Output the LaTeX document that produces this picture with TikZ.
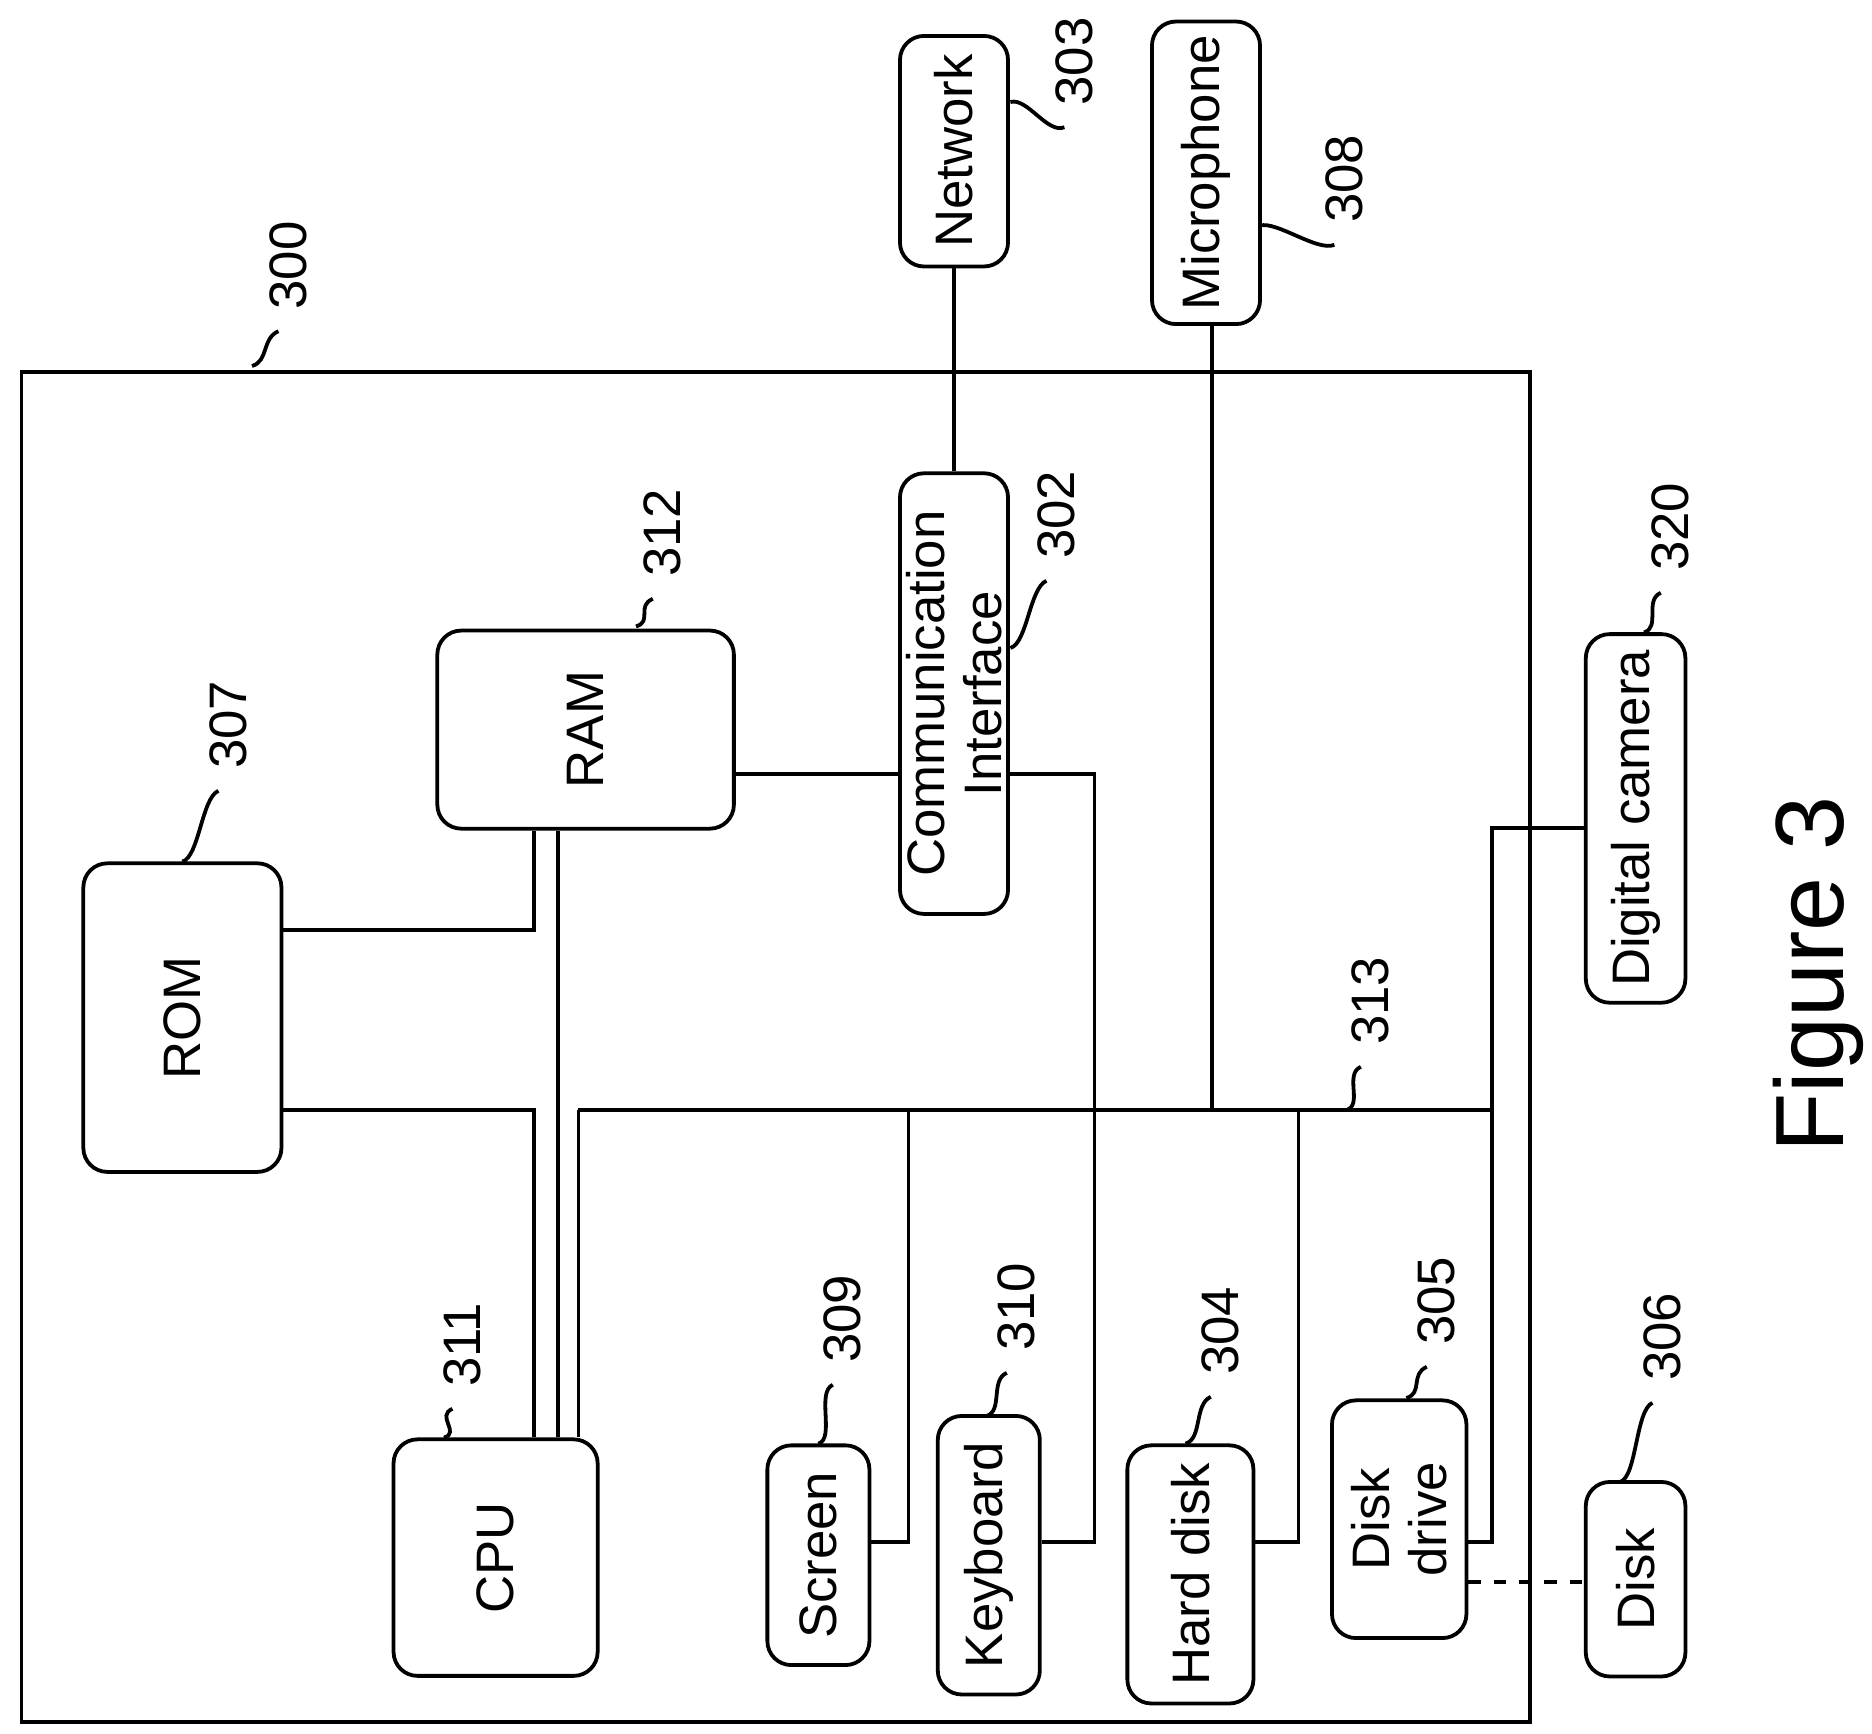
\documentclass[tikz,border=0pt]{standalone}
\usepackage{fontspec}
\setmainfont{Liberation Sans}
\usetikzlibrary{positioning, calc}
\tikzset{
    box/.style={
        draw,
        rectangle,
        rounded corners=2mm,
        rotate=90,
        align=center,
        line width=0.9pt,
        font=\fontsize{12.5}{13.5}\selectfont,
        inner sep=1pt
    },
    bus/.style={
        line width=0.9pt
    },
    refnum/.style={
        rotate=90,
        anchor=west,
        font=\fontsize{12.5}{13.5}\selectfont,
        inner sep=1pt
    }
}
% part number with its little curve
\newcommand{\partnum}[5]{%
    \draw[bus] (#2) .. controls +(14,-4) and +(-14,6) .. ($(#3,#4)+(-8,14)$);
    \node[refnum] (#1) at (#3,#4) {#5};
}

\begin{document}
\begin{tikzpicture}[x=0.01cm, y=-0.01cm]
    \useasboundingbox (0,0) rectangle (1560,1445);

    % Device frame
    \draw[bus] (18,310) rectangle (1275,1435);
    \partnum{n300}{210,305}{240}{262}{300}

    % Outside parts
    \node[box, minimum width=1.92cm, minimum height=0.9cm] (net) at (795,126) {Network};
    \node[box, minimum width=2.52cm, minimum height=0.9cm] (mic) at (1005,144) {Microphone};
    \node[box, minimum width=3.07cm, minimum height=0.83cm] (cam) at (1363,682) {Digital camera};
    \node[box, minimum width=1.62cm, minimum height=0.83cm] (disk) at (1363,1316) {Disk};

    % Inside parts
    \node[box, minimum width=3.67cm, minimum height=0.9cm] (ci) at (795,578) {Communication\\ Interface};
    \node[box, minimum width=1.65cm, minimum height=2.47cm] (ram) at (488,608) {RAM};
    \node[box, minimum width=2.57cm, minimum height=1.65cm] (rom) at (152,848) {ROM};
    \node[box, minimum width=1.97cm, minimum height=1.70cm] (cpu) at (413,1298) {CPU};
    \node[box, minimum width=1.83cm, minimum height=0.85cm] (scr) at (682,1296) {Screen};
    \node[box, minimum width=2.32cm, minimum height=0.85cm] (kb) at (824,1296) {Keyboard};
    \node[box, minimum width=2.15cm, minimum height=1.05cm] (hd) at (992,1312) {Hard disk};
    \node[box, minimum width=1.98cm, minimum height=1.12cm] (dd) at (1166,1266) {Disk\\ drive};

    % Part numbers
    \partnum{n303}{842,85}{895}{92}{303}
    \partnum{n308}{1050,188}{1120}{190}{308}
    \partnum{n302}{842,540}{880}{470}{302}
    \partnum{n312}{530,522}{552}{485}{312}
    \partnum{n307}{152,718}{190}{645}{307}
    \partnum{n311}{370,1198}{385}{1160}{311}
    \partnum{n309}{682,1203}{702}{1140}{309}
    \partnum{n310}{822,1180}{847}{1130}{310}
    \partnum{n304}{988,1203}{1017}{1150}{304}
    \partnum{n305}{1172,1165}{1197}{1125}{305}
    \partnum{n306}{1350,1235}{1385}{1155}{306}
    \partnum{n320}{1370,527}{1392}{480}{320}
    \partnum{n313}{1122,925}{1142}{875}{313}

    % Bus and connectors
    \coordinate (busL) at (482,925);
    \coordinate (busR) at (1245,925);
    \coordinate (kbj) at (912,1285);
    \draw[bus] (busL) -- (busR);
    \draw[bus] (net.west) -- (ci.east);
    \draw[bus] (mic.west -| 1010,0) -- (1010,0 |- busL);
    \draw[bus] (ram.south |- 0,645) -- (ci.north |- 0,645);
    \draw[bus] (ci.south |- 0,645) -| (kbj) -- (kb.south |- kbj);
    \draw[bus] (rom.south |- 0,775) -| (445,0 |- ram.west);
    \draw[bus] (rom.south |- 0,925) -| (445,0 |- cpu.east);
    \draw[bus] (465,0 |- ram.west) -- (465,0 |- cpu.east);
    \draw[bus] (busL) -- (482,0 |- cpu.east);
    \draw[bus] (scr.south |- 0,1285) -| (757,0 |- busL);
    \draw[bus] (hd.south |- 0,1285) -| (1082,0 |- busL);
    \draw[bus] (dd.south |- 0,1285) -- (1243,1285) -- (1243,690) -- (cam.north |- 0,690);
    \draw[bus, dashed] (dd.south |- 0,1318) -- (disk.north |- 0,1318);

    % Caption
    \node[rotate=90, font=\fontsize{23}{25}\selectfont] (fig) at (1515,812) {Figure 3};
\end{tikzpicture}
\end{document}
